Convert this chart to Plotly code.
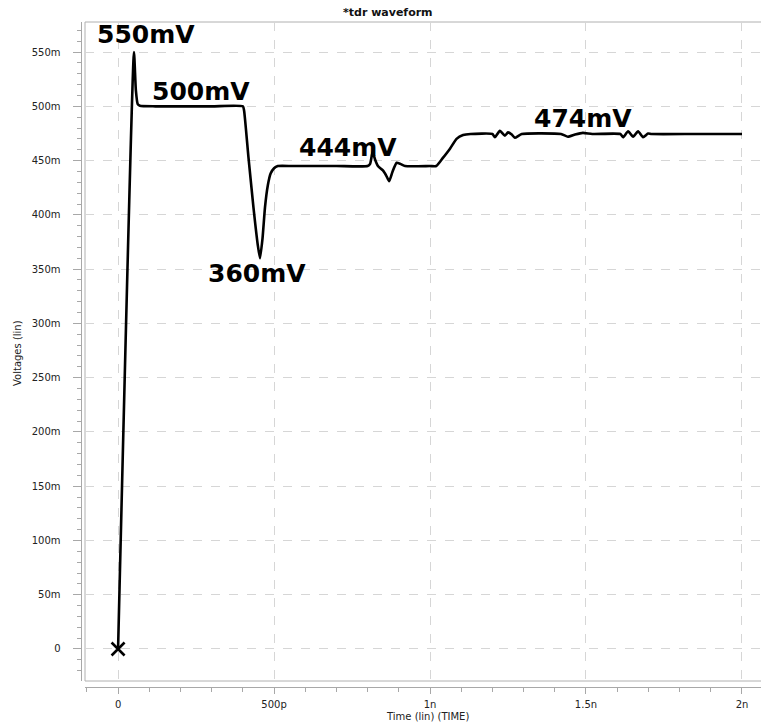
import plotly.graph_objects as go

# waveform: time in ps, voltage in mV
time_ps = [0, 51, 57, 63, 70, 120, 300, 400, 404, 418, 434, 448, 455, 463, 471, 480, 489, 500,
           512, 560, 700, 800, 808, 816, 825, 833, 849, 860, 869, 880, 893, 905, 920, 1000,
           1020, 1040, 1064, 1085, 1106, 1130, 1200, 1208, 1224, 1240, 1250, 1262, 1272, 1294,
           1420, 1442, 1465, 1490, 1520, 1610, 1619, 1635, 1651, 1667, 1683, 1699, 1710,
           1850, 2000]
volt_mv = [0, 550, 515, 502, 500.5, 500, 500, 500, 496, 453, 407, 372, 360, 378, 407, 427, 438, 443,
           445, 445, 445, 445, 447, 458, 450, 445, 441, 436, 431, 440, 448, 447, 445, 445,
           445, 452, 461, 470, 473.5, 474.5, 474.5, 471.5, 477.5, 473, 476, 474, 471, 474.5,
           474.5, 472, 474, 475.5, 474.5, 474.5, 471.5, 477, 472, 477, 471.5, 475, 474.5,
           474.5, 474.5]

x_tick_vals = [0, 500, 1000, 1500, 2000]
x_tick_text = ["0", "500p", "1n", "1.5n", "2n"]
y_tick_vals = [0, 50, 100, 150, 200, 250, 300, 350, 400, 450, 500, 550]
y_tick_text = ["0", "50m", "100m", "150m", "200m", "250m", "300m", "350m", "400m",
               "450m", "500m", "550m"]

label_text = ["550mV", "500mV", "360mV", "444mV", "474mV"]
label_t = [90, 266, 444, 737, 1489]
label_v = [566.6, 514, 346, 462.5, 488.8]

W, H = 761, 723
px_left, px_right = 85, 761
px_top, px_bottom = 22, 681

fig = go.Figure()
fig.add_trace(go.Scatter(
    x=time_ps, y=volt_mv, mode="lines",
    line=dict(color="black", width=2.6, shape="spline", smoothing=0.5),
    hoverinfo="skip", showlegend=False))
fig.add_trace(go.Scatter(
    x=[time_ps[0]], y=[volt_mv[0]], mode="markers",
    marker=dict(symbol="x-thin", size=13, line=dict(color="black", width=2.6)),
    hoverinfo="skip", showlegend=False, cliponaxis=False))

grid_col = "#d6d6d6"
axis_col = "#a8a8a8"
small_font = "DejaVu Sans, Liberation Sans, Arial"
tick_font = dict(family=small_font, size=10, color="#222222")

fig.update_layout(
    width=W, height=H,
    margin=dict(l=0, r=0, t=0, b=0, autoexpand=False),
    paper_bgcolor="white", plot_bgcolor="white",
    xaxis=dict(
        domain=[px_left / W, px_right / W],
        range=[-106, 2061],
        anchor="free", position=1 - 687 / H, automargin=False,
        tickvals=x_tick_vals, ticktext=x_tick_text,
        ticks="outside", ticklen=6, tickcolor=axis_col, tickwidth=1,
        showline=True, linecolor=axis_col, linewidth=1,
        showgrid=True, gridcolor=grid_col, griddash="dash", gridwidth=1,
        zeroline=False, tickfont=tick_font, ticklabelstandoff=2,
        minor=dict(dtick=100, tick0=0, ticks="outside", ticklen=4,
                   tickcolor=axis_col, showgrid=False),
    ),
    yaxis=dict(
        domain=[1 - px_bottom / H, 1 - px_top / H],
        range=[-29.5, 577.7],
        anchor="free", position=80.5 / W, automargin=False,
        tickvals=y_tick_vals, ticktext=y_tick_text,
        ticks="outside", ticklen=8, tickcolor=axis_col, tickwidth=1,
        showline=True, linecolor=axis_col, linewidth=1,
        showgrid=True, gridcolor=grid_col, griddash="dash", gridwidth=1,
        zeroline=False, tickfont=tick_font, ticklabelstandoff=10,
        minor=dict(dtick=10, tick0=0, ticks="outside", ticklen=4,
                   tickcolor=axis_col, showgrid=False),
    ),
)

# plot frame (left, top, bottom)
frame_col = "#b0b0b0"
for (x0, y0, x1, y1) in [(px_left, px_top, px_left, px_bottom),
                         (px_left, px_top, px_right, px_top),
                         (px_left, px_bottom, px_right, px_bottom)]:
    fig.add_shape(type="line", xref="paper", yref="paper",
                  x0=x0 / W, x1=x1 / W, y0=1 - y0 / H, y1=1 - y1 / H,
                  line=dict(color=frame_col, width=1), layer="below")

for txt, t, v in zip(label_text, label_t, label_v):
    fig.add_annotation(x=t, y=v, xref="x", yref="y", text=txt, showarrow=False,
                       xanchor="center", yanchor="middle",
                       font=dict(family="DejaVu Sans", size=25, color="black", weight="bold"))

fig.add_annotation(x=388 / W, y=1 - 12.5 / H, xref="paper", yref="paper",
                   text="<b>*tdr waveform</b>", showarrow=False,
                   xanchor="center", yanchor="middle",
                   font=dict(family=small_font, size=11, color="#111"))
fig.add_annotation(x=427.5 / W, y=1 - 716 / H, xref="paper", yref="paper",
                   text="Time (lin) (TIME)", showarrow=False,
                   xanchor="center", yanchor="middle",
                   font=dict(family=small_font, size=10, color="#222"))
fig.add_annotation(x=17 / W, y=1 - 353 / H, xref="paper", yref="paper",
                   text="Voltages (lin)", showarrow=False, textangle=-90,
                   xanchor="center", yanchor="middle",
                   font=dict(family=small_font, size=10, color="#222"))

fig.write_html("out.html", config={"displayModeBar": False, "staticPlot": True})
with open("out.html", "r", encoding="utf-8") as f:
    html = f.read()
html = html.replace("<head>", "<head><style>html,body{margin:0;padding:0;overflow:hidden;}</style>", 1)
with open("out.html", "w", encoding="utf-8") as f:
    f.write(html)
